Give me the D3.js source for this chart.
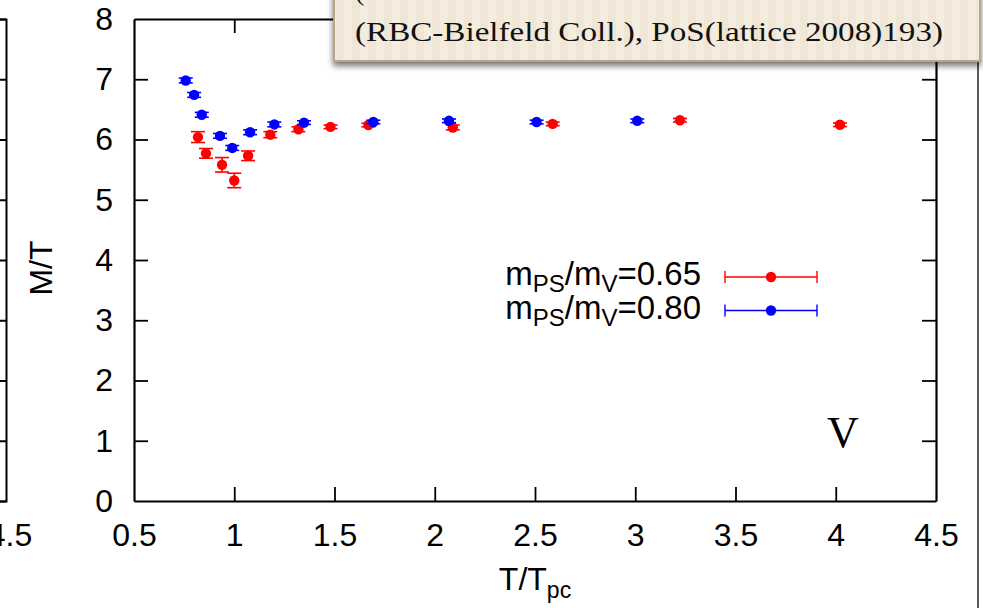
<!DOCTYPE html>
<html>
<head>
<meta charset="utf-8">
<script src="https://cdn.jsdelivr.net/npm/d3@7"></script>
<style>
  html, body { margin: 0; padding: 0; background: #ffffff; }
  svg { display: block; }
  .sans { font-family: "Liberation Sans", Arial, Helvetica, sans-serif; }
  .serif { font-family: "Liberation Serif", "Times New Roman", serif; }
</style>
</head>
<body>
<svg id="chart" width="983" height="608"></svg>
<script>
// Vector meson screening mass over temperature, two quark-mass ratios
const tRed  = [0.819, 0.859, 0.939, 1.000, 1.069, 1.180, 1.320, 1.480, 1.669, 2.090, 2.588, 3.223, 4.021];
const mRed  = [6.04, 5.77, 5.58, 5.32, 5.73, 6.08, 6.17, 6.21, 6.24, 6.20, 6.26, 6.32, 6.245];
const eRed  = [0.09, 0.08, 0.12, 0.12, 0.08, 0.05, 0.04, 0.03, 0.03, 0.04, 0.03, 0.03, 0.03];

const tBlue = [0.758, 0.800, 0.838, 0.929, 0.990, 1.079, 1.200, 1.348, 1.694, 2.071, 2.508, 3.010];
const mBlue = [6.98, 6.74, 6.41, 6.06, 5.86, 6.12, 6.25, 6.28, 6.29, 6.31, 6.29, 6.31];
const eBlue = [0.04, 0.04, 0.04, 0.04, 0.04, 0.04, 0.04, 0.03, 0.03, 0.03, 0.03, 0.03];

const xTicks = [0.5, 1, 1.5, 2, 2.5, 3, 3.5, 4, 4.5];
const yTicks = [0, 1, 2, 3, 4, 5, 6, 7, 8];
const seriesNames = ["0.65", "0.80"];
const seriesColors = ["#ff0000", "#0000ff"];
const citation = "(RBC-Bielfeld Coll.), PoS(lattice 2008)193)";
const channelLabel = "V";

const svg = d3.select("#chart");
const x = d3.scaleLinear().domain([0.5, 4.5]).range([134, 936]);
const y = d3.scaleLinear().domain([0, 8]).range([501, 19]);

const fmt = d => String(d);

// neighbouring panel's right frame (clipped at the left edge)
const side = svg.append("g").attr("transform", "translate(6,0)")
  .call(d3.axisLeft(y).tickValues(yTicks).tickSize(6).tickSizeOuter(6).tickFormat(""));
side.selectAll("path, line").attr("stroke", "#000").attr("stroke-width", 2);
svg.append("text").attr("class", "sans").attr("x", 10).attr("y", 546)
  .attr("text-anchor", "middle").attr("font-size", 32).text("4.5");

// frame axes
const axB = svg.append("g").attr("transform", "translate(0,501)")
  .call(d3.axisBottom(x).tickValues(xTicks).tickFormat(fmt).tickSizeInner(-14).tickSizeOuter(0).tickPadding(22));
const axL = svg.append("g").attr("transform", "translate(134,0)")
  .call(d3.axisLeft(y).tickValues(yTicks).tickFormat(fmt).tickSizeInner(-14).tickSizeOuter(0).tickPadding(21));
const axT = svg.append("g").attr("transform", "translate(0,19)")
  .call(d3.axisTop(x).tickValues(xTicks).tickFormat("").tickSizeInner(-14).tickSizeOuter(0));
const axR = svg.append("g").attr("transform", "translate(936,0)")
  .call(d3.axisRight(y).tickValues(yTicks).tickFormat("").tickSizeInner(-14).tickSizeOuter(0));

[axB, axL, axT, axR].forEach(g => {
  g.select(".domain").attr("stroke", "#000").attr("stroke-width", 2.2);
  g.selectAll(".tick line").attr("stroke", "#000").attr("stroke-width", 1.8);
  g.selectAll(".tick text").attr("class", "sans").attr("font-size", 32).attr("fill", "#000");
});
// drop ticks that sit on the frame corners
axB.selectAll(".tick").filter(d => d === 0.5 || d === 4.5).select("line").remove();
axT.selectAll(".tick").filter(d => d === 0.5 || d === 4.5).select("line").remove();
axL.selectAll(".tick").filter(d => d === 0 || d === 8).select("line").remove();
axR.selectAll(".tick").filter(d => d === 0 || d === 8).select("line").remove();

// axis titles
const xt = svg.append("text").attr("class", "sans").attr("x", 535).attr("y", 590)
  .attr("text-anchor", "middle").attr("font-size", 32);
xt.append("tspan").text("T/T");
xt.append("tspan").attr("font-size", 23).attr("dy", 8).text("pc");

svg.append("text").attr("class", "sans")
  .attr("transform", "translate(52,268) rotate(-90)")
  .attr("text-anchor", "middle").attr("font-size", 32).text("M/T");

// data with error bars
function drawSeries(ts, ms, es, color) {
  const g = svg.append("g");
  const pts = ts.map((t, i) => ({ t, m: ms[i], e: es[i] }));
  const cap = 7;
  g.selectAll("line.bar").data(pts).join("line")
    .attr("x1", d => x(d.t)).attr("x2", d => x(d.t))
    .attr("y1", d => y(d.m - d.e)).attr("y2", d => y(d.m + d.e))
    .attr("stroke", color).attr("stroke-width", 1.6);
  g.selectAll("line.lo").data(pts).join("line")
    .attr("x1", d => x(d.t) - cap).attr("x2", d => x(d.t) + cap)
    .attr("y1", d => y(d.m - d.e)).attr("y2", d => y(d.m - d.e))
    .attr("stroke", color).attr("stroke-width", 1.6);
  g.selectAll("line.hi").data(pts).join("line")
    .attr("x1", d => x(d.t) - cap).attr("x2", d => x(d.t) + cap)
    .attr("y1", d => y(d.m + d.e)).attr("y2", d => y(d.m + d.e))
    .attr("stroke", color).attr("stroke-width", 1.6);
  g.selectAll("circle").data(pts).join("circle")
    .attr("cx", d => x(d.t)).attr("cy", d => y(d.m)).attr("r", 5.2)
    .attr("fill", color);
}
drawSeries(tRed, mRed, eRed, seriesColors[0]);
drawSeries(tBlue, mBlue, eBlue, seriesColors[1]);

// legend
seriesNames.forEach((name, i) => {
  const cy = 277 + i * 33.5;
  const txt = svg.append("text").attr("class", "sans")
    .attr("x", 701).attr("y", cy + 8).attr("text-anchor", "end").attr("font-size", 33);
  txt.append("tspan").text("m");
  txt.append("tspan").attr("font-size", 24).attr("dy", 7).text("PS");
  txt.append("tspan").attr("dy", -7).text("/m");
  txt.append("tspan").attr("font-size", 24).attr("dy", 7).text("V");
  txt.append("tspan").attr("dy", -7).text("=" + name);
  const c = seriesColors[i];
  const lg = svg.append("g");
  lg.append("line").attr("x1", 725).attr("x2", 817).attr("y1", cy).attr("y2", cy)
    .attr("stroke", c).attr("stroke-width", 1.4);
  [725, 817].forEach(px => lg.append("line").attr("x1", px).attr("x2", px)
    .attr("y1", cy - 6).attr("y2", cy + 6).attr("stroke", c).attr("stroke-width", 1.4));
  lg.append("circle").attr("cx", 771).attr("cy", cy).attr("r", 5.2).attr("fill", c);
});

// channel label
svg.append("text").attr("class", "serif").attr("x", 843).attr("y", 447)
  .attr("text-anchor", "middle").attr("font-size", 44).text(channelLabel);

// right page edge
svg.append("line").attr("x1", 978).attr("x2", 978).attr("y1", 0).attr("y2", 608)
  .attr("stroke", "#5a5a5a").attr("stroke-width", 2);

// citation note
const defs = svg.append("defs");
const pat = defs.append("pattern").attr("id", "paper").attr("patternUnits", "userSpaceOnUse")
  .attr("width", 16).attr("height", 10);
pat.append("rect").attr("width", 16).attr("height", 10).attr("fill", "#f3ecdf");
pat.append("rect").attr("x", 0).attr("width", 8).attr("height", 10).attr("fill", "#efe6d6");
const flt = defs.append("filter").attr("id", "shadow").attr("x", "-5%").attr("y", "-20%")
  .attr("width", "110%").attr("height", "150%");
flt.append("feDropShadow").attr("dx", 0).attr("dy", 4).attr("stdDeviation", 3)
  .attr("flood-color", "#000").attr("flood-opacity", 0.55);

svg.append("rect").attr("x", 334).attr("y", -10).attr("width", 646).attr("height", 71)
  .attr("fill", "url(#paper)").attr("stroke", "#b9a682").attr("stroke-width", 2)
  .attr("filter", "url(#shadow)");
svg.append("text").attr("class", "serif").attr("x", 355).attr("y", 0)
  .attr("font-size", 28).attr("fill", "#111").text("(");
svg.append("text").attr("class", "serif").attr("x", 355).attr("y", 41)
  .attr("font-size", 28).attr("fill", "#111")
  .attr("textLength", 588).attr("lengthAdjust", "spacingAndGlyphs").text(citation);
</script>
</body>
</html>
